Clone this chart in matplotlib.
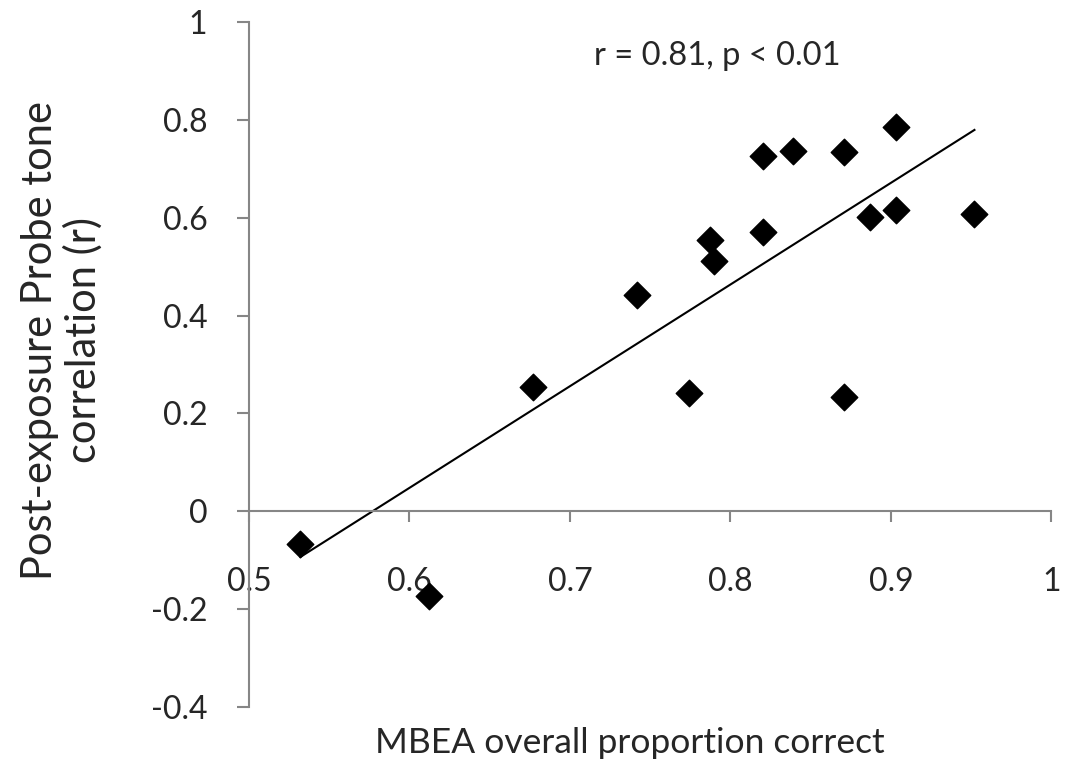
import numpy as np
import matplotlib.pyplot as plt

plt.rcParams['font.family'] = ['Lato', 'DejaVu Sans']

# MBEA proportion correct vs post-exposure probe tone correlation
mbea = [0.532, 0.612, 0.677, 0.742, 0.774, 0.787, 0.790, 0.820, 0.820,
        0.839, 0.871, 0.871, 0.887, 0.903, 0.903, 0.952]
probe_r = [-0.067, -0.174, 0.255, 0.442, 0.241, 0.554, 0.512, 0.727, 0.570,
           0.737, 0.735, 0.233, 0.602, 0.786, 0.615, 0.607]

x_ticks = [0.5, 0.6, 0.7, 0.8, 0.9, 1.0]
x_labels = ['0.5', '0.6', '0.7', '0.8', '0.9', '1']
y_ticks = [-0.4, -0.2, 0, 0.2, 0.4, 0.6, 0.8, 1.0]
y_labels = ['-0.4', '-0.2', '0', '0.2', '0.4', '0.6', '0.8', '1']

fig = plt.figure(figsize=(10.7, 7.66), dpi=100)
ax = fig.add_axes([0.2327, 0.077, 0.75, 0.8943])

ax.scatter(mbea, probe_r, marker='D', s=13.5**2, color='black', zorder=3)

# linear trendline
slope, intercept = np.polyfit(mbea, probe_r, 1)
xs = np.array([min(mbea), max(mbea)])
ax.plot(xs, slope * xs + intercept, color='black', linewidth=1.5, zorder=2)

ax.set_xlim(0.5, 1.0)
ax.set_ylim(-0.4, 1.0)

axis_grey = '#868686'
text_col = '#262626'
ax.spines['top'].set_visible(False)
ax.spines['right'].set_visible(False)
ax.spines['bottom'].set_position(('data', 0))
ax.spines['bottom'].set_color(axis_grey)
ax.spines['left'].set_color(axis_grey)
ax.spines['bottom'].set_linewidth(1.5)
ax.spines['left'].set_linewidth(1.5)

ax.set_xticks(x_ticks)
ax.set_xticklabels(x_labels)
ax.set_yticks(y_ticks)
ax.set_yticklabels(y_labels)
ax.tick_params(axis='x', direction='out', length=8, width=1.5, color=axis_grey,
               pad=32, labelsize=23, labelcolor=text_col)
ax.tick_params(axis='y', direction='out', length=9, width=1.5, color=axis_grey,
               pad=21, labelsize=23, labelcolor=text_col)

ax.text(0.7916, 0.913, 'r = 0.81, p < 0.01', ha='center', va='baseline',
        fontsize=23.5, color=text_col)

fig.text(0.589, 0.017, 'MBEA overall proportion correct', ha='center', va='baseline',
         fontsize=25.5, color=text_col)
fig.text(0.058, 0.556, 'Post-exposure Probe tone\ncorrelation (r)', ha='center',
         va='center', rotation=90, fontsize=30, color=text_col, linespacing=1.15)

fig.savefig('out.png', dpi=100)
